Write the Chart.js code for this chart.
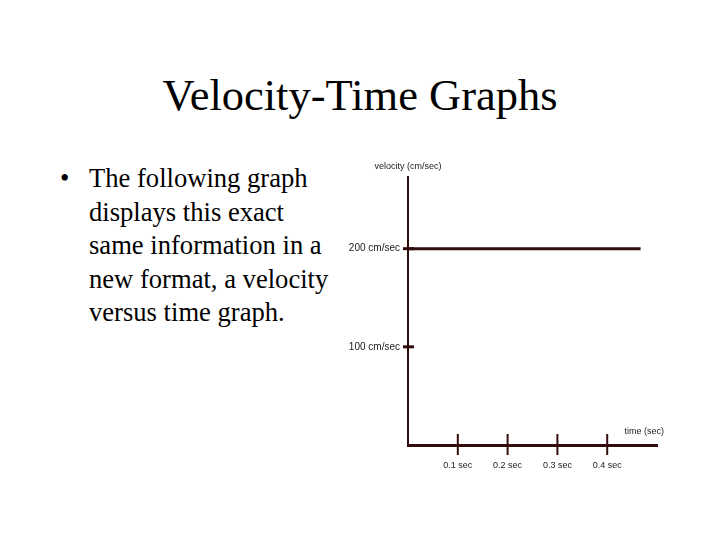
<!DOCTYPE html>
<html>
<head>
<meta charset="utf-8">
<script src="https://cdn.jsdelivr.net/npm/chart.js@4/dist/chart.umd.min.js"></script>
<style>
  body { margin: 0; width: 720px; height: 540px; background: #fff; position: relative; overflow: hidden; }
  #title { position: absolute; left: 0; width: 720px; top: 69px; text-align: center;
           font-family: 'Liberation Serif', 'Times New Roman', serif; font-size: 44.5px; color: #000; }
  #bullets { position: absolute; left: 60px; top: 162px; width: 290px;
             font-family: 'Liberation Serif', 'Times New Roman', serif; font-size: 26.6px; line-height: 33.5px; color: #000; }
  #bullets .dot { position: absolute; left: 0; top: 0; }
  #bullets .txt { position: absolute; left: 29px; top: 0; white-space: nowrap; }
  #wrap { position: absolute; left: 330px; top: 150px; width: 350px; height: 330px; }
</style>
</head>
<body>
<div id="title">Velocity-Time Graphs</div>
<div id="bullets">
  <span class="dot">•</span>
  <div class="txt">The following graph<br>displays this exact<br>same information in a<br>new format, a velocity<br>versus time graph.</div>
</div>
<div id="wrap"><canvas id="myChart" width="350" height="330"></canvas></div>
<script>
// chart values
let times = [0, 0.467];
let velocities = [200, 200];
let xTicks = [0.1, 0.2, 0.3, 0.4];
let yTicks = [100, 200];
let xLabel = 'time (sec)';
let yLabel = 'velocity (cm/sec)';

const ink = 'rgb(50, 12, 12)';
const small = { family: "'Liberation Sans', Arial, sans-serif", size: 9 };
const yFont = { family: "'Liberation Sans', Arial, sans-serif", size: 10 };

// tick marks that cross the axis lines, plus the axis captions
const axisExtras = {
  id: 'axisExtras',
  afterDatasetsDraw(chart) {
    const ctx = chart.ctx;
    const x = chart.scales.x, y = chart.scales.y;
    const area = chart.chartArea;
    ctx.save();
    ctx.strokeStyle = ink;
    ctx.lineWidth = 2;
    xTicks.forEach(v => {
      const px = x.getPixelForValue(v);
      ctx.beginPath();
      ctx.moveTo(px, area.bottom - 11);
      ctx.lineTo(px, area.bottom + 10);
      ctx.stroke();
    });
    ctx.lineWidth = 3;
    yTicks.forEach(v => {
      const py = y.getPixelForValue(v);
      ctx.beginPath();
      ctx.moveTo(area.left - 5, py);
      ctx.lineTo(area.left + 6, py);
      ctx.stroke();
    });
    ctx.fillStyle = '#222';
    ctx.font = small.size + 'px ' + small.family;
    ctx.textBaseline = 'middle';
    ctx.textAlign = 'center';
    ctx.fillText(yLabel, area.left, area.top - 10);
    ctx.textAlign = 'right';
    ctx.fillText(xLabel, area.right + 7, area.bottom - 13);
    ctx.restore();
  }
};

let myChart = document.getElementById('myChart').getContext('2d');
let newChart = new Chart(myChart, {
  type: 'line',
  data: {
    datasets: [{
      data: times.map((t, i) => ({ x: t, y: velocities[i] })),
      borderColor: ink,
      borderWidth: 3,
      pointRadius: 0,
      fill: false
    }]
  },
  options: {
    responsive: false,
    animation: false,
    layout: { padding: { top: 27, right: 23, left: 0, bottom: 0 } },
    plugins: { legend: { display: false }, tooltip: { enabled: false } },
    scales: {
      x: {
        type: 'linear',
        min: 0,
        max: 0.5,
        afterBuildTicks: s => { s.ticks = xTicks.map(v => ({ value: v })); },
        afterFit: s => { s.height = 35; },
        grid: { display: false },
        border: { color: ink, width: 3 },
        ticks: { padding: 7, color: '#222', font: small, maxRotation: 0, callback: v => v + ' sec' }
      },
      y: {
        min: 0,
        max: 273,
        afterBuildTicks: s => { s.ticks = yTicks.map(v => ({ value: v })); },
        afterFit: s => { s.width = 78; },
        grid: { display: false },
        border: { color: ink, width: 2 },
        ticks: { padding: 0, color: '#222', font: yFont, callback: v => v + ' cm/sec' }
      }
    }
  },
  plugins: [axisExtras]
});
</script>
</body>
</html>
